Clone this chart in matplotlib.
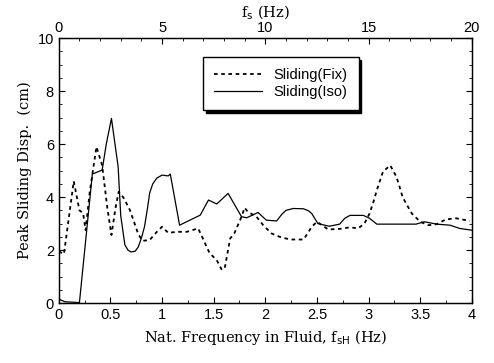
import numpy as np
import matplotlib.pyplot as plt
from matplotlib.ticker import MultipleLocator

# Sliding(Fix) - dashed
fix_f = [0.0, 0.05, 0.10, 0.145, 0.20, 0.235, 0.26, 0.30, 0.365, 0.42, 0.47, 0.51, 0.55,
         0.58, 0.63, 0.69, 0.77, 0.81, 0.88, 0.95, 1.0, 1.06, 1.14, 1.24, 1.35, 1.46,
         1.53, 1.58, 1.61, 1.66, 1.70, 1.77, 1.80, 1.83, 1.915, 1.98, 2.06, 2.14, 2.24,
         2.37, 2.40, 2.45, 2.50, 2.61, 2.72, 2.82, 2.90, 2.96, 3.01, 3.05, 3.08, 3.14,
         3.21, 3.27, 3.30, 3.33, 3.38, 3.42, 3.50, 3.58, 3.66, 3.75, 3.85, 3.98]
fix_d = [1.95, 1.85, 3.3, 4.6, 3.5, 3.4, 2.75, 4.2, 5.9, 5.2, 3.6, 2.57, 3.6,
         4.2, 3.96, 3.5, 2.6, 2.35, 2.38, 2.69, 2.88, 2.65, 2.69, 2.69, 2.82, 1.89,
         1.62, 1.25, 1.37, 2.44, 2.63, 3.26, 3.6, 3.45, 3.26, 2.94, 2.63, 2.5, 2.4,
         2.4, 2.57, 2.88, 3.07, 2.78, 2.8, 2.86, 2.82, 3.0, 3.38, 3.85, 4.26, 4.96,
         5.2, 4.77, 4.4, 4.0, 3.65, 3.38, 3.07, 2.94, 2.98, 3.16, 3.2, 3.1]

# Sliding(Iso) - solid
iso_f = [0.0, 0.06, 0.20, 0.325, 0.42, 0.46, 0.51, 0.575, 0.60, 0.64, 0.67, 0.70, 0.74,
         0.77, 0.80, 0.83, 0.86, 0.88, 0.91, 0.95, 1.0, 1.06, 1.08, 1.17, 1.27, 1.37,
         1.45, 1.53, 1.64, 1.77, 1.82, 1.93, 2.01, 2.11, 2.16, 2.20, 2.27, 2.37, 2.42,
         2.45, 2.51, 2.62, 2.72, 2.77, 2.82, 2.95, 3.01, 3.08, 3.27, 3.46, 3.54, 3.66,
         3.79, 3.88, 4.0]
iso_d = [0.15, 0.05, 0.02, 4.87, 5.02, 6.0, 6.97, 5.14, 3.3, 2.2, 2.0, 1.93, 1.96,
         2.12, 2.45, 2.88, 3.6, 4.15, 4.5, 4.72, 4.83, 4.8, 4.87, 2.94, 3.13, 3.32,
         3.89, 3.74, 4.14, 3.26, 3.22, 3.42, 3.13, 3.1, 3.35, 3.5, 3.57, 3.56, 3.48,
         3.38, 3.0, 2.9, 2.98, 3.2, 3.31, 3.31, 3.2, 2.98, 2.98, 2.98, 3.07, 2.98,
         2.94, 2.82, 2.75]

serif = 'DejaVu Serif'
plt.rcParams['font.family'] = ['Liberation Sans', 'DejaVu Sans']

fig = plt.figure(figsize=(4.94, 3.63), dpi=100)
ax = fig.add_axes([0.119, 0.165, 0.836, 0.730])

ax.plot(fix_f, fix_d, color='k', lw=1.3, ls=(0, (2, 2)), label='Sliding(Fix)')
ax.plot(iso_f, iso_d, color='k', lw=0.9, label='Sliding(Iso)')

ax.set_xlim(0, 4)
ax.set_ylim(0, 10)
ax.set_xticks([0, 0.5, 1, 1.5, 2, 2.5, 3, 3.5, 4])
ax.set_xticklabels(['0', '0.5', '1', '1.5', '2', '2.5', '3', '3.5', '4'])
ax.xaxis.set_minor_locator(MultipleLocator(0.25))
ax.yaxis.set_minor_locator(MultipleLocator(0.5))
ax.tick_params(which='both', direction='in', top=False, right=True, labelsize=10.5)
ax.tick_params(which='major', length=4)
ax.tick_params(which='minor', length=2)

ax.set_xlabel('Nat. Frequency in Fluid, f$_{\\rm sH}$ (Hz)', family=serif, fontsize=10.5)
ax.set_ylabel('Peak Sliding Disp.  (cm)', family=serif, fontsize=10.5)

top = ax.twiny()
top.set_xlim(0, 20)
top.set_xticks([0, 5, 10, 15, 20])
top.xaxis.set_minor_locator(MultipleLocator(1))
top.tick_params(which='both', direction='in', labelsize=10.5, pad=2)
top.tick_params(which='major', length=4)
top.tick_params(which='minor', length=2)
top.set_xlabel('f$_{\\rm s}$ (Hz)', family=serif, fontsize=10.5, labelpad=3)

for a in (ax, top):
    for s in a.spines.values():
        s.set_linewidth(0.9)

leg = ax.legend(loc='upper left', bbox_to_anchor=(0.349, 0.928), borderaxespad=0,
                frameon=True, fancybox=False, edgecolor='k', fontsize=10.5,
                handlelength=3.3, borderpad=0.75, labelspacing=0.2,
                shadow={'color': 'k', 'alpha': 1})
leg.get_frame().set_linewidth(1.0)

fig.savefig('out.png', dpi=100)
